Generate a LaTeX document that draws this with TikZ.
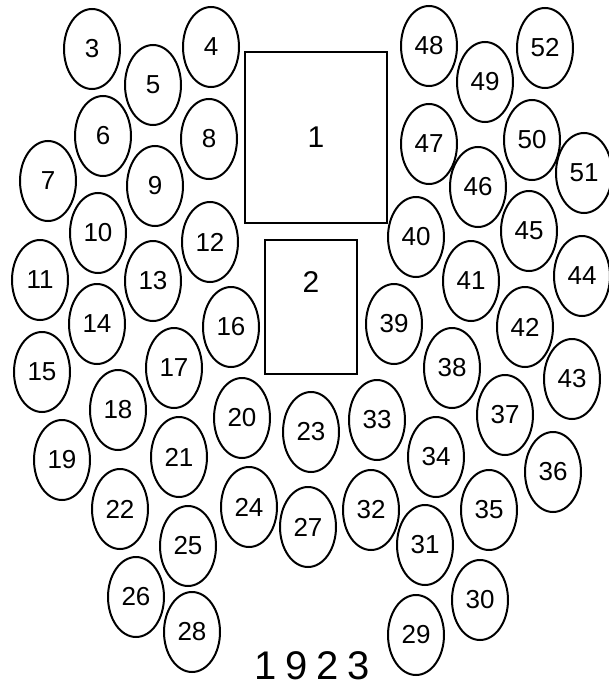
\documentclass[tikz,border=0pt]{standalone}
\usepackage{fontspec}
\setmainfont{Liberation Sans}
\newfontfamily\yearfont[LetterSpace=22]{Liberation Sans}
\usetikzlibrary{shapes.geometric}
\begin{document}
\begin{tikzpicture}[x=1pt,y=-1pt,
  seat/.style={draw, line width=2pt, ellipse, minimum width=56pt, minimum height=80pt, inner sep=0pt, font=\fontsize{26}{26}\selectfont},
  tablebox/.style={draw, line width=2.8pt, inner sep=0pt, font=\fontsize{30}{30}\selectfont}]
\useasboundingbox (0,0) rectangle (609,688);
\node[tablebox, minimum width=142pt, minimum height=171pt] (t1) at (316,137.5) {1};
\node[tablebox, minimum width=92pt, minimum height=134pt, label={[yshift=25pt, font=\fontsize{30}{30}\selectfont]center:2}] (t2) at (311,307) {};
\foreach \n/\px/\py in {
  3/92/49, 4/211/47, 5/153/85, 6/103/136, 7/48/181, 8/209/139, 9/155/186,
  10/98/233, 11/40/280, 12/210/242, 13/153/281, 14/97/324, 15/42/372,
  16/231/327, 17/174/368, 18/118/410, 19/62/460, 20/242/418, 21/179/457,
  22/120/509, 23/311/432, 24/249/507, 25/188/546, 26/136/597, 27/308/527,
  28/192/632, 29/416/635, 30/480/600, 31/425/545, 32/371/510, 33/377/420,
  34/436/457, 35/489/510, 36/553/472, 37/505/415, 38/452/368, 39/394/324,
  40/416/237, 41/471/281, 42/525/327, 43/572/379, 44/582/276, 45/529/231,
  46/478/187, 47/429/144, 48/429/46, 49/485/82, 50/532/140, 51/584/173,
  52/545/48}
  \node[seat] (s\n) at (\px,\py) {\n};
\node[font=\yearfont\fontsize{40}{40}\selectfont] (year) at (312,666) {1923};
\end{tikzpicture}
\end{document}
